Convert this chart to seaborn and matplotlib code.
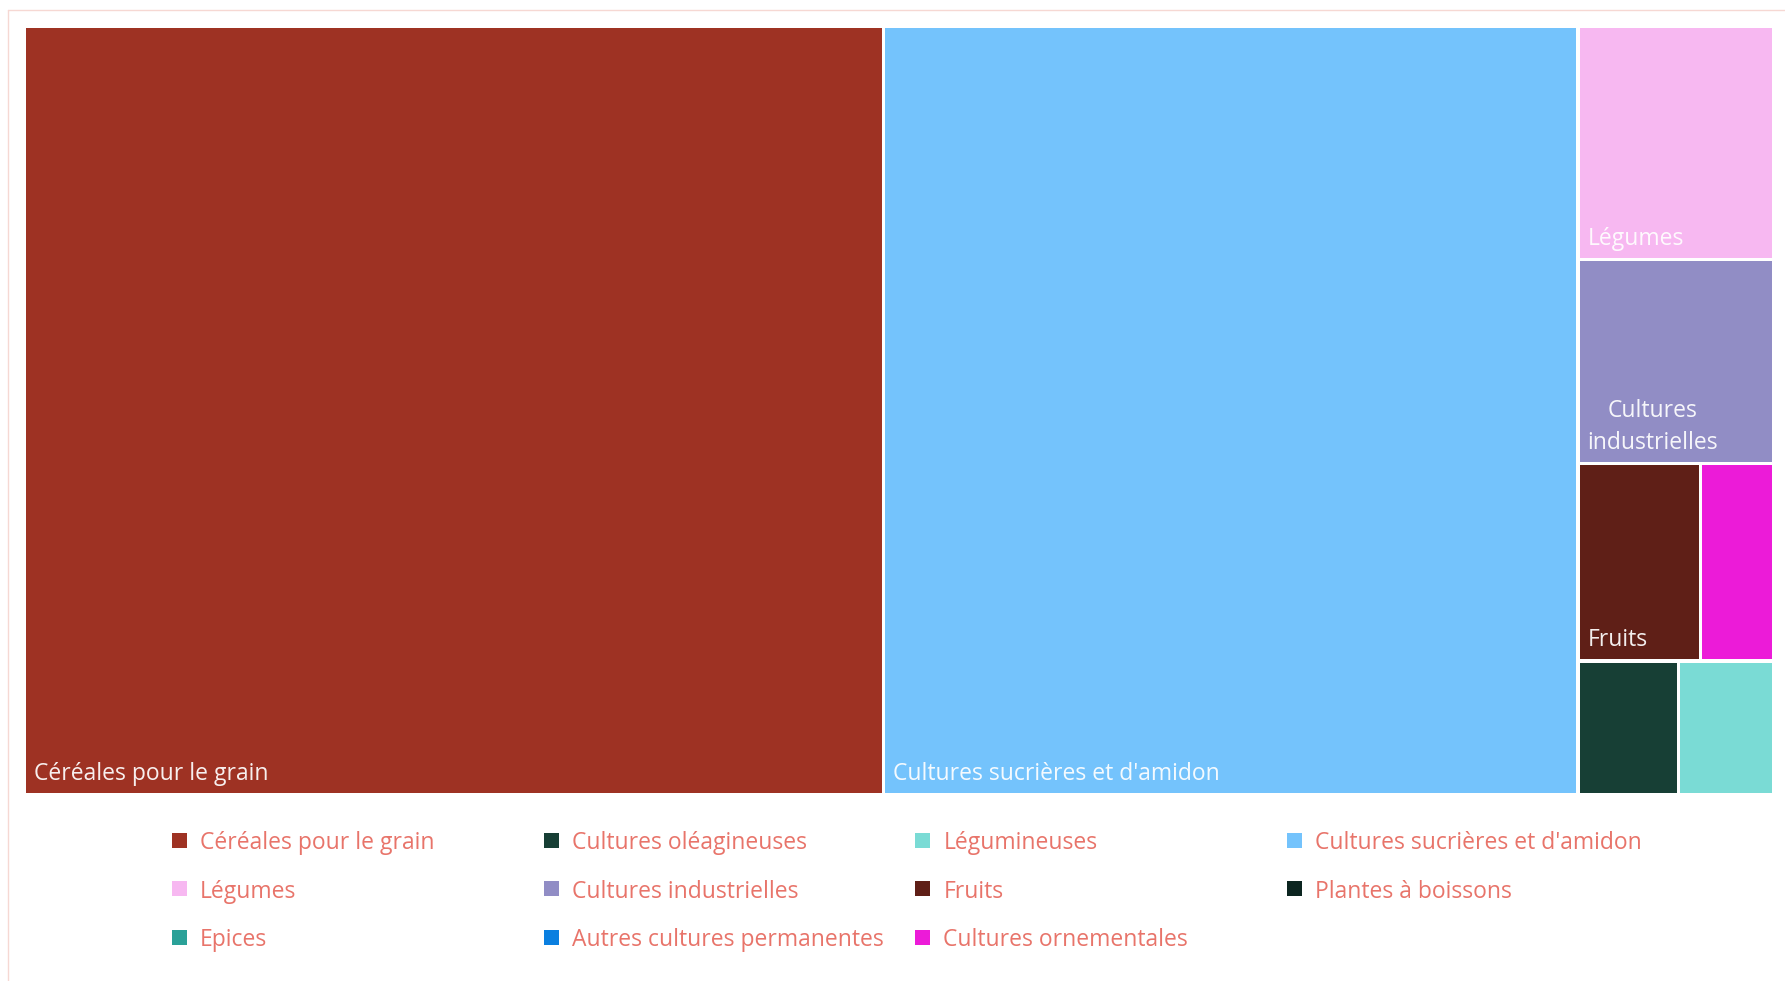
import numpy as np
import pandas as pd
import matplotlib
matplotlib.use("Agg")
import matplotlib.pyplot as plt
import seaborn as sns
from matplotlib.patches import Rectangle
from matplotlib.lines import Line2D

# ---------------- data ----------------
categories = ["Céréales pour le grain", "Cultures oléagineuses", "Légumineuses",
              "Cultures sucrières et d'amidon", "Légumes", "Cultures industrielles",
              "Fruits", "Plantes à boissons", "Epices", "Autres cultures permanentes",
              "Cultures ornementales"]
values = [49.10, 1.00, 0.95, 39.70, 3.40, 2.97, 1.80, 0.0, 0.0, 0.0, 1.08]
colors = ["#9e3223", "#173f35", "#7adbd5", "#74c3fc", "#f7b8f1", "#918dc5",
          "#5f1f17", "#0c2520", "#2aa198", "#0a7fe0", "#ec1bd8"]

df = pd.DataFrame({"categorie": categories, "valeur": values})

sns.set_theme(style="white")
plt.rcParams['font.family'] = ['Open Sans', 'DejaVu Sans']
palette = sns.color_palette(colors)

FW, FH = 1785, 981
fig = plt.figure(figsize=(FW / 100, FH / 100), dpi=100)

# layout region (pixels)
g = 1.75                      # half gap
left_px, top_px = 26 - g, 28 - g
W, H = 1746 + 2 * g, 765 + 2 * g
ax = fig.add_axes([left_px / FW, 1 - (top_px + H) / FH, W / FW, H / FH])
ax.set_xlim(0, W)
ax.set_ylim(H, 0)
ax.axis("off")

# ---------------- squarified layout ----------------
RATIO = 1.4


def worst(areas, fixed, ratio):
    nz = [a for a in areas if a > 0]
    s = sum(areas)
    if not nz or s == 0:
        return np.inf
    f = fixed * fixed * ratio
    return max(f * max(nz) / (s * s), (s * s) / (f * min(nz)))


def position(row, areas, rect, flush, out):
    x, y, w, h = rect
    fixed = min(w, h)
    horizontal = (fixed == w)
    s = sum(areas[i] for i in row)
    other = s / fixed if fixed else 0
    lim = h if horizontal else w
    if flush or other > lim:
        other = lim
    last = x if horizontal else y
    end = (x + w) if horizontal else (y + h)
    for k, i in enumerate(row):
        step = areas[i] / other if other else 0
        remain = end - last
        mod = remain if (k == len(row) - 1 or remain < step) else step
        if horizontal:
            out[i] = (last, y, mod, other)
        else:
            out[i] = (x, last, other, mod)
        last += mod
    if horizontal:
        return (x, y + other, w, h - other)
    return (x + other, y, w - other, h)


total = df["valeur"].sum()
order = [i for i in df["valeur"].sort_values(ascending=False, kind="stable").index
         if df.loc[i, "valeur"] > 0]
areas = {i: df.loc[i, "valeur"] / total * W * H for i in order}
out = {}
rect = (0.0, 0.0, W, H)
row, best, k = [], np.inf, 0
while k < len(order):
    i = order[k]
    row.append(i)
    sc = worst([areas[j] for j in row], min(rect[2], rect[3]), RATIO)
    if sc <= best:
        best = sc
        k += 1
    else:
        row.pop()
        rect = position(row, areas, rect, False, out)
        row, best = [], np.inf
if row:
    position(row, areas, rect, True, out)

FS = 16.5
renderer = fig.canvas.get_renderer()
for i, (x, y, w, h) in out.items():
    ax.add_patch(Rectangle((x + g, y + g), w - 2 * g, h - 2 * g,
                           facecolor=palette[i], edgecolor="none", lw=0))
    # label
    pad = 8
    avail = w - 2 * g - 2 * pad
    words = df.loc[i, "categorie"].split(" ")
    lines, cur = [], ""
    ok = True
    probe = ax.text(0, 0, "", fontsize=FS)
    for wd in words:
        cand = (cur + " " + wd).strip()
        probe.set_text(cand)
        if probe.get_window_extent(renderer).width <= avail:
            cur = cand
        else:
            if cur:
                lines.append(cur)
            probe.set_text(wd)
            if probe.get_window_extent(renderer).width > avail:
                ok = False
                break
            cur = wd
    if cur:
        lines.append(cur)
    probe.remove()
    if ok and len(lines) <= 2:
        ax.text(x + g + pad, y + h - g - 13, "\n".join(lines), fontsize=FS,
                color="white", alpha=0.93, ha="left", va="baseline",
                multialignment="center", linespacing=1.42)

# ---------------- legend (grid) ----------------
leg_color = "#e8746a"
col_x = [172 + 371.7 * c for c in range(4)]
row_y = [840 + 48.5 * r for r in range(3)]
for i, cat in enumerate(df["categorie"]):
    r, c = divmod(i, 4)
    mx, my = col_x[c], row_y[r]
    fig.patches.append(Rectangle((mx / FW, 1 - (my + 7.5) / FH), 15 / FW, 15 / FH,
                                 transform=fig.transFigure, facecolor=palette[i],
                                 edgecolor="none", figure=fig))
    fig.text((mx + 28) / FW, 1 - (my + 3) / FH, cat, fontsize=FS, color=leg_color,
             ha="left", va="center")

# outer frame
fc = "#f6d8d3"
fig.add_artist(Line2D([8 / FW, 1], [1 - 10 / FH, 1 - 10 / FH], color=fc, lw=1,
                      transform=fig.transFigure))
fig.add_artist(Line2D([8 / FW, 8 / FW], [1 - 10 / FH, 0], color=fc, lw=1,
                      transform=fig.transFigure))

fig.savefig("out.png", dpi=100, facecolor="white")
